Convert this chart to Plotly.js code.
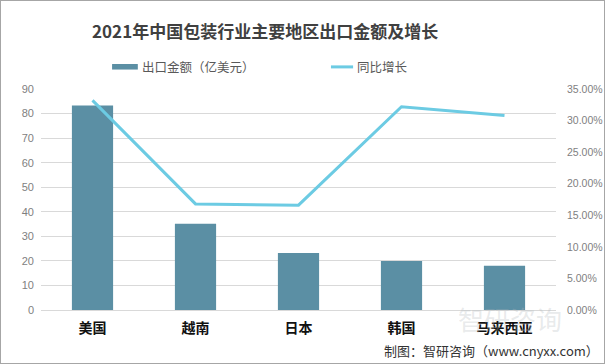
<!DOCTYPE html>
<html>
<head>
<meta charset="utf-8">
<script src="https://cdn.plot.ly/plotly-3.0.1.min.js"></script>
<style>
  html, body { margin: 0; padding: 0; background: #fff; }
  #chart { width: 605px; height: 364px; box-sizing: border-box; border: 1px solid #a6a6a6; }
</style>
</head>
<body>
<div id="chart"></div>
<script>
const categories = ["美国", "越南", "日本", "韩国", "马来西亚"];
const exportValues = [83.3, 35.1, 23.2, 20.0, 18.0];
const growthRates = [0.332, 0.168, 0.166, 0.322, 0.308];
const leftTicks = [0, 10, 20, 30, 40, 50, 60, 70, 80, 90];
const rightTicks = [0, 0.05, 0.10, 0.15, 0.20, 0.25, 0.30, 0.35];
const seriesNames = ["出口金额（亿美元）", "同比增长"];

const cjk = '"Noto Sans CJK SC", "Noto Sans", sans-serif';

const traces = [
  {
    type: "bar",
    name: seriesNames[0],
    x: categories,
    y: exportValues,
    marker: { color: "#5b8fa4" },
    width: 0.4,
    yaxis: "y"
  },
  {
    type: "scatter",
    mode: "lines",
    name: seriesNames[1],
    x: categories,
    y: growthRates,
    line: { color: "#6ccbe3", width: 3 },
    yaxis: "y2"
  }
];

const layout = {
  width: 603,
  height: 362,
  margin: { l: 40, r: 48, t: 88, b: 53 },
  paper_bgcolor: "#ffffff",
  plot_bgcolor: "#ffffff",
  showlegend: false,
  title: {
    text: "<b>2021年中国包装行业主要地区出口金额及增长</b>",
    font: { family: cjk, size: 17, color: "#404040" },
    x: 0.438, xanchor: "center", y: 0.915, yanchor: "middle"
  },
  xaxis: {
    type: "category",
    tickfont: { family: cjk, size: 14, color: "#111111" },
    tickprefix: "<b>", ticksuffix: "</b>",
    showline: false, showgrid: false, ticks: "", ticklen: 0,
    ticklabelstandoff: 8,
    zeroline: false, fixedrange: true
  },
  yaxis: {
    range: [0, 90],
    tickvals: leftTicks,
    tickfont: { family: '"Liberation Sans", Arial, sans-serif', size: 11, color: "#7f7f7f" },
    showgrid: true, gridcolor: "#d9d9d9", gridwidth: 1,
    zeroline: true, zerolinecolor: "#d9d9d9", zerolinewidth: 1,
    showline: false, ticks: "", ticklabelstandoff: 6
  },
  yaxis2: {
    overlaying: "y",
    side: "right",
    range: [0, 0.35],
    tickvals: rightTicks,
    tickformat: ".2%",
    tickfont: { family: '"Liberation Sans", Arial, sans-serif', size: 10.5, color: "#7f7f7f" },
    showgrid: false, zeroline: false, showline: false, ticks: "",
    ticklabelstandoff: 10
  },
  shapes: [
    { type: "rect", xref: "paper", yref: "paper", x0: 0.138, x1: 0.188, y0: 1.088, y1: 1.113,
      fillcolor: "#5b8fa4", line: { width: 0 } },
    { type: "line", xref: "paper", yref: "paper", x0: 0.563, x1: 0.606, y0: 1.1, y1: 1.1,
      line: { color: "#6ccbe3", width: 3 } }
  ],
  annotations: [
    { xref: "paper", yref: "paper", x: 0.192, y: 1.1, xanchor: "left", yanchor: "middle",
      text: seriesNames[0], showarrow: false, font: { family: cjk, size: 12.5, color: "#595959" } },
    { xref: "paper", yref: "paper", x: 0.609, y: 1.1, xanchor: "left", yanchor: "middle",
      text: seriesNames[1], showarrow: false, font: { family: cjk, size: 12.5, color: "#595959" } },
    { xref: "paper", yref: "paper", x: 0.91, y: -0.04, xanchor: "center", yanchor: "middle",
      text: "智研咨询", showarrow: false, font: { family: cjk, size: 26, color: "rgba(180,185,190,0.3)" } },
    { xref: "paper", yref: "paper", x: 1.087, y: -0.183, xanchor: "right", yanchor: "middle",
      text: "制图：智研咨询（www.cnyxx.com）", showarrow: false, font: { family: cjk, size: 13, color: "#333333" } }
  ]
};

Plotly.newPlot("chart", traces, layout, { displayModeBar: false, staticPlot: true });
</script>
</body>
</html>
